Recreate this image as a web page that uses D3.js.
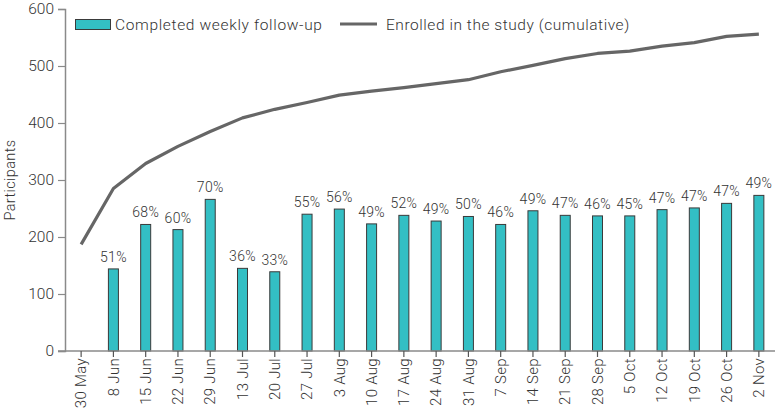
<!DOCTYPE html>
<html><head><meta charset="utf-8">
<script src="https://cdn.jsdelivr.net/npm/d3@7"></script>
<style>
body{margin:0;background:#fff;}
text{font-family:Roboto,"DejaVu Sans",sans-serif;fill:#333;font-weight:300;}
</style></head>
<body><svg id="c" width="775" height="414"></svg>
<script>
const categories = ["30 May","8 Jun","15 Jun","22 Jun","29 Jun","13 Jul","20 Jul","27 Jul","3 Aug","10 Aug","17 Aug","24 Aug","31 Aug","7 Sep","14 Sep","21 Sep","28 Sep","5 Oct","12 Oct","19 Oct","26 Oct","2 Nov"];
const completed = [null,144,222,213,266,145,139,240,249,223,238,228,236,222,246,238,237,237,248,251,259,273];
const percentLabels = [null,"51%","68%","60%","70%","36%","33%","55%","56%","49%","52%","49%","50%","46%","49%","47%","46%","45%","47%","47%","47%","49%"];
const enrolled = [187,285,329,359,385,409,424,436,449,456,462,469,476,490,501,513,522,526,535,541,552,556];
const yTicks = [0,100,200,300,400,500,600];

const svg = d3.select("#c");
const m = {l:65, r:0, t:9, b:63};
const W = 775, H = 414;
const x = d3.scaleBand().domain(categories).range([m.l, W - m.r]).paddingInner(0.69).paddingOuter(0.345);
const y = d3.scaleLinear().domain([0,600]).range([H - m.b, m.t]);
const axisColor = "#8a8a8a";

// bars
const barData = categories.map((c,i)=>({c, v:completed[i], p:percentLabels[i]})).filter(d=>d.v!=null);
svg.append("g").selectAll("rect").data(barData).join("rect")
  .attr("x", d=>x(d.c)).attr("width", x.bandwidth())
  .attr("y", d=>y(d.v)).attr("height", d=>y(0)-y(d.v))
  .attr("fill","#33bfc4").attr("stroke","#3a3a3a").attr("stroke-width",1);

svg.append("g").selectAll("text").data(barData).join("text")
  .attr("x", d=>x(d.c)+x.bandwidth()/2).attr("y", d=>y(d.v)-7)
  .attr("text-anchor","middle").attr("font-size","14px").style("letter-spacing","0.3px").text(d=>d.p);

// line
const line = d3.line().x((d,i)=>x(categories[i])+x.bandwidth()/2).y(d=>y(d));
svg.append("path").datum(enrolled).attr("d", line)
  .attr("fill","none").attr("stroke","#666").attr("stroke-width",3.2).attr("stroke-linejoin","round");

// y axis
const ya = svg.append("g").attr("transform",`translate(${m.l},0)`)
  .call(d3.axisLeft(y).tickValues(yTicks).tickSize(7).tickPadding(4));
ya.select(".domain").attr("stroke",axisColor).attr("stroke-width",1.5);
ya.selectAll(".tick line").attr("stroke",axisColor).attr("stroke-width",1.2);
ya.selectAll(".tick text").attr("font-size","15.5px").attr("fill","#333").style("font-family","Roboto").style("font-weight",300);

// x axis
const xa = svg.append("g").attr("transform",`translate(0,${y(0)})`)
  .call(d3.axisBottom(x).tickSize(6).tickSizeOuter(0).tickPadding(6));
xa.select(".domain").attr("stroke",axisColor).attr("stroke-width",1.5).attr("d",`M${m.l-7},0H${W}`);
xa.selectAll(".tick line").attr("stroke","#555").attr("stroke-width",1.2);
xa.selectAll(".tick text").attr("font-size","15px").attr("fill","#333").style("font-family","Roboto").style("font-weight",300)
  .style("letter-spacing","0.3px")
  .attr("transform","rotate(-90)").attr("text-anchor","end").attr("x",-7).attr("y",0).attr("dy","0.35em");

// y label
svg.append("text").attr("transform",`translate(14.5,${(m.t+H-m.b)/2}) rotate(-90)`)
  .attr("text-anchor","middle").attr("font-size","14.5px").style("letter-spacing","0.4px").text("Participants");

// legend
const lg = svg.append("g");
lg.append("rect").attr("x",75.5).attr("y",19.5).attr("width",35).attr("height",10)
  .attr("fill","#33bfc4").attr("stroke","#3a3a3a").attr("stroke-width",1);
lg.append("text").attr("x",115).attr("y",30).attr("font-size","15.5px").style("letter-spacing","0.65px").text("Completed weekly follow-up");
lg.append("line").attr("x1",340).attr("x2",377).attr("y1",24).attr("y2",24).attr("stroke","#666").attr("stroke-width",3.2);
lg.append("text").attr("x",386).attr("y",30).attr("font-size","15.5px").style("letter-spacing","0.55px").text("Enrolled in the study (cumulative)");
</script></body></html>
